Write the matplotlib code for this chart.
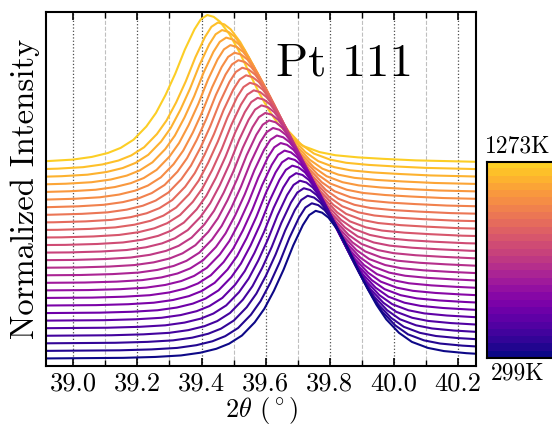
import matplotlib

matplotlib.use("Agg")

import matplotlib.pyplot as plt
import numpy as np
from matplotlib.colors import ListedColormap
from matplotlib.ticker import MultipleLocator, FormatStrFormatter


# temperatures of the scans (K), bottom curve first
temperatures = [299, 336, 374, 411, 449, 486, 523, 561, 598, 636, 673, 711, 748, 786,
                823, 860, 898, 935, 973, 1010, 1048, 1085, 1123, 1160, 1198, 1235, 1273]

# Pt 111 peak position read for every scan (deg 2theta)
peak_center = [39.756, 39.744, 39.731, 39.719, 39.707, 39.695, 39.683, 39.671, 39.659,
               39.647, 39.635, 39.623, 39.611, 39.599, 39.587, 39.575, 39.563, 39.551,
               39.539, 39.527, 39.515, 39.503, 39.490, 39.477, 39.464, 39.451, 39.418]

profile_offset = [-0.85, -0.60, -0.50, -0.42, -0.36, -0.31, -0.27, -0.23, -0.19, -0.16,
                  -0.13, -0.10, -0.07, -0.04, -0.02, 0.00, 0.02, 0.04, 0.07, 0.10,
                  0.13, 0.16, 0.19, 0.22, 0.26, 0.30, 0.35, 0.40, 0.47, 0.55, 0.65, 0.85]
profile_value = [0.000, 0.004, 0.010, 0.020, 0.038, 0.064, 0.098, 0.152, 0.240, 0.330,
                 0.450, 0.590, 0.750, 0.885, 0.952, 0.980, 0.968, 0.935, 0.850, 0.735,
                 0.600, 0.470, 0.355, 0.260, 0.170, 0.110, 0.070, 0.049, 0.035, 0.025,
                 0.015, 0.005]

OFFSET = 0.05

plt.rcParams["font.family"] = ["cmr10", "DejaVu Serif"]
plt.rcParams["mathtext.fontset"] = "cm"
plt.rcParams["axes.formatter.use_mathtext"] = True

n = len(temperatures)
cmap = ListedColormap(plt.get_cmap("plasma")(np.linspace(0.0, 0.9, n)))
colors = [cmap(i) for i in range(n)]

fig = plt.figure(figsize=(5.52, 4.29), dpi=100)
ax = fig.add_axes([0.0833, 0.1469, 0.779, 0.8251])

offs = np.array(profile_offset)
vals = np.array(profile_value)
for i in reversed(range(n)):
    ax.plot(peak_center[i] + offs, vals + i * OFFSET, color=colors[i], lw=1.5)

ax.set_xlim(38.915, 40.256)
ax.set_ylim(-0.05, 2.30)
ax.set_yticks([])
ax.xaxis.set_major_locator(MultipleLocator(0.2))
ax.xaxis.set_minor_locator(MultipleLocator(0.1))
ax.xaxis.set_major_formatter(FormatStrFormatter("%.1f"))
ax.tick_params(axis="x", which="both", direction="in", top=True, bottom=True,
               labelsize=19, pad=4)
ax.tick_params(axis="x", which="major", length=6, width=1.2)
ax.tick_params(axis="x", which="minor", length=4, width=1.0)
ax.grid(True, axis="x", which="major", linestyle=":", color="0.3", lw=0.9)
ax.grid(True, axis="x", which="minor", linestyle="--", color="0.75", lw=0.8)
for sp in ax.spines.values():
    sp.set_linewidth(1.5)

ax.set_xlabel("2$\\theta$ ($^\\circ$)", fontsize=19, labelpad=0)
ax.set_ylabel("Normalized Intensity", fontsize=23.5, labelpad=4)
ax.text(0.535, 0.822, "Pt 111", transform=ax.transAxes, fontsize=34, va="baseline")

# discrete colour bar on the right
cax = fig.add_axes([0.882, 0.1655, 0.13, 0.457])
cax.imshow(np.arange(n)[:, None], aspect="auto", origin="lower", cmap=cmap,
           extent=[0, 1, 0, 1])
cax.set_xticks([])
cax.set_yticks([])
for sp in cax.spines.values():
    sp.set_linewidth(1.5)
fig.text(0.937, 0.632, f"{temperatures[-1]}K", fontsize=17, ha="center", va="bottom")
fig.text(0.937, 0.155, f"{temperatures[0]}K", fontsize=17, ha="center", va="top")

fig.savefig("out.png", dpi=100)
